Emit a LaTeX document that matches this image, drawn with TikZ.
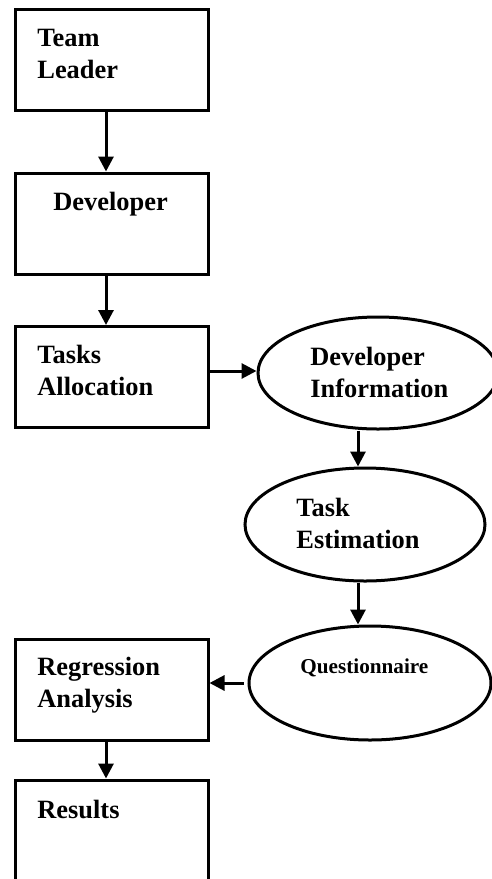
\documentclass[tikz,border=0pt]{standalone}
\usepackage{fontspec}
\setmainfont{Liberation Serif}
\usetikzlibrary{shapes.geometric,arrows.meta}
\begin{document}
\begin{tikzpicture}[x=0.5pt,y=-0.5pt,
  stagebox/.style={draw=black, line width=1.5pt, rectangle, inner sep=0pt,
    minimum width=96.5pt, minimum height=50.5pt},
  stageoval/.style={draw=black, line width=1.5pt, ellipse, inner sep=0pt},
  lbl/.style={anchor=base west, inner sep=0pt, align=left,
    font=\bfseries\fontsize{13.2}{16}\selectfont},
  smalllbl/.style={anchor=base west, inner sep=0pt,
    font=\bfseries\fontsize{10.6}{13}\selectfont},
  flow/.style={line width=1.5pt, -{Triangle[width=7.5pt,length=7.5pt]}}]
\useasboundingbox (0,0) rectangle (492,879);
\clip (0,0) rectangle (492,879);

% left column of process boxes
\node[stagebox] (b1) at (111.5,59.5) {};
\node[stagebox] (b2) at (111.5,223.5) {};
\node[stagebox] (b3) at (111.5,377) {};
\node[stagebox] (b4) at (111.5,690) {};
\node[stagebox] (b5) at (111.5,830.5) {};

% right column of data ellipses
\node[stageoval, minimum width=120pt, minimum height=56pt] (e1) at (378,373) {};
\node[stageoval, minimum width=120pt, minimum height=56.5pt] (e2) at (365,524.5) {};
\node[stageoval, minimum width=121pt, minimum height=57pt] (e3) at (370,683) {};

% labels (multi-line labels are anchored on the baseline of their last line)
\node[lbl] (t1) at (37,78) {Team\\Leader};
\node[lbl] (t2) at (53,210) {Developer};
\node[lbl] (t3) at (37,395) {Tasks\\Allocation};
\node[lbl] (t4) at (37,707) {Regression\\Analysis};
\node[lbl] (t5) at (37,818) {Results};
\node[lbl] (t6) at (310,397) {Developer\\Information};
\node[lbl] (t7) at (296,548) {Task\\Estimation};
\node[smalllbl] (t8) at (300,673) {Questionnaire};

% connectors
\coordinate (lx) at (106,0);
\coordinate (rx) at (358,0);
\draw[flow] (b1.south -| lx) -- (b2.north -| lx);
\draw[flow] (b2.south -| lx) -- (b3.north -| lx);
\draw[flow] ([yshift=3pt]b3.east) -- ([yshift=3pt]b3.east -| e1.west);
\draw[flow] (e1.south -| rx) -- (e2.north -| rx);
\draw[flow] (e2.south -| rx) -- (e3.north -| rx);
\draw[flow] ([xshift=-2pt]e3.west) -- (e3.west -| b4.east);
\draw[flow] (b4.south -| lx) -- (b5.north -| lx);
\end{tikzpicture}
\end{document}
